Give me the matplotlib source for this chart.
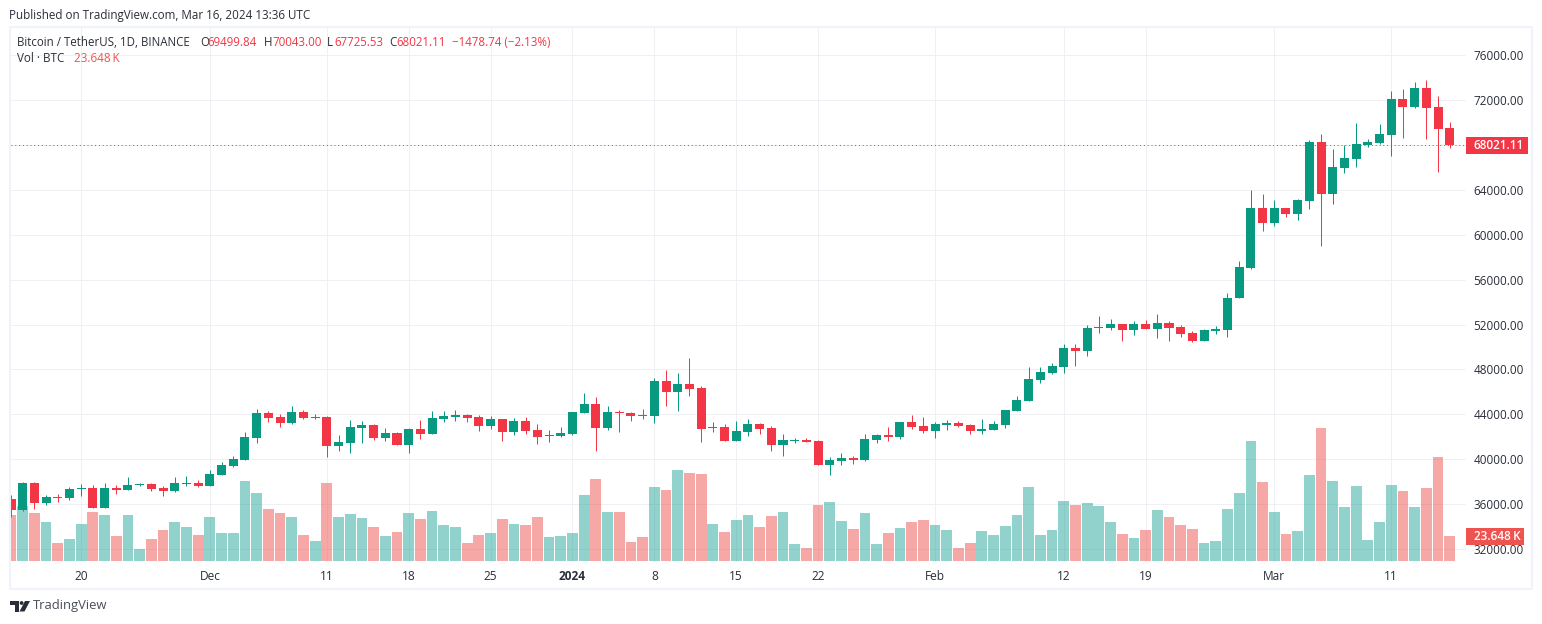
import numpy as np
import pandas as pd
import matplotlib
matplotlib.use('Agg')
import matplotlib.pyplot as plt
import matplotlib.dates as mdates
from matplotlib.patches import Rectangle, Polygon, Circle

plt.rcParams['font.family'] = ['Open Sans', 'DejaVu Sans']

# daily candles
dates = pd.date_range('2023-11-14', '2024-03-16', freq='D')
opens = [36440,35470,37870,36090,36620,36530,37330,37420,35640,37420,37240,37690,37780,37420,37160,37780,37870,37600,38580,39380,
         39910,41870,44090,43730,43200,44180,43640,43730,41160,41420,42760,43020,41870,42310,41240,42670,42220,43560,43730,43910,
         43730,42930,43560,42400,43380,42580,42040,42040,42220,44090,44890,42760,44180,44090,43910,43820,46930,45960,46670,46310,
         42760,42840,41600,42400,43110,42760,41240,41600,41690,41600,39470,39820,40090,39910,41690,42130,41960,43290,42930,42490,
         43020,43200,43020,42490,42580,43020,44270,45160,47020,47650,48180,49870,49600,51730,51730,52090,51560,52090,51650,52180,
         51820,51290,50580,51470,51560,54340,57020,62400,61070,62400,61870,63020,68270,63640,65960,66760,68000,68180,68890,72090,
         71380,73070,71380,69499.84]
highs = [36800,37960,37960,36800,36890,37510,37780,37690,37870,37690,38400,37870,37870,37600,38400,38490,38130,39020,39730,40270,
         42400,44450,44270,44000,44710,44360,44000,43820,42130,43470,43380,43110,42760,42400,42760,43470,44270,44270,44360,44000,
         43910,43820,43560,43640,43730,43110,42580,42840,44180,45870,45510,44710,44360,44180,44450,47200,47910,47650,48980,46490,
         43290,43110,43380,43560,43200,42930,42220,41870,41870,41690,40180,40530,40270,42220,42220,42840,43290,43910,43730,43290,
         43470,43380,43110,43560,43380,44360,45600,48180,48180,48530,50310,50310,52000,52800,52530,52090,52360,52450,52980,52360,
         52000,51470,51650,51910,54850,57640,64000,63640,63110,62400,63200,68440,68980,67640,68000,69960,68530,69870,72800,72980,
         73600,73780,72360,70043.00]
lows = [34840,35380,35550,35910,36180,36360,36710,35640,35640,36890,37240,37600,37160,36710,37070,37600,37510,37600,38580,39290,
        39910,41420,43290,42840,43110,43560,43560,40180,40710,40530,41420,41690,41600,41240,40530,41780,42220,43290,43380,43290,
        42490,42670,41600,42130,42220,41330,41510,41960,42130,44090,40710,42580,42400,43380,43560,43200,44710,44270,45600,41510,
        42400,41600,41600,42040,42220,40710,40270,41420,41510,39470,38580,39470,39560,39820,41420,41600,41780,42670,42310,41870,
        42580,42840,42220,42220,42580,42760,44270,45160,46760,47560,47650,48270,49160,51290,51560,50580,51110,51650,50760,50580,
        50930,50490,50580,51200,50850,54340,56930,60350,60800,61600,61330,62310,59020,62750,65510,66040,67820,68090,67020,68620,
        71290,68530,65600,67725.53]
closes = [35470,37870,36090,36620,36530,37330,37420,35640,37420,37240,37690,37780,37330,37160,37870,37870,37600,38670,39470,40000,
          41960,44090,43640,43200,44180,43640,43730,41160,41510,42840,43020,41870,42310,41240,42670,42220,43640,43820,43910,43640,
          42930,43560,42400,43380,42490,41960,42130,42310,44180,44890,42760,44180,44090,43820,43820,46930,45960,46670,46220,42670,
          42840,41600,42490,43110,42670,41240,41690,41690,41510,39470,39910,40090,39910,41780,42130,41960,43290,42840,42490,43110,
          43200,42930,42490,42670,43110,44360,45250,47110,47730,48270,49870,49600,51730,51820,52090,51560,52090,51650,52180,51730,
          51200,50580,51560,51650,54400,57110,62400,61070,62400,61870,63110,68270,63640,66040,66840,68090,68270,68980,72090,71380,
          73070,71290,69420,68021.11]
# volume in thousands of BTC
volumes = [43.5,52.0,45.4,36.9,17.0,20.8,35.0,46.4,43.5,23.6,43.5,11.4,20.8,29.3,36.9,32.2,24.6,41.6,26.5,26.5,
           75.7,64.3,49.2,45.4,41.6,24.6,18.9,73.8,41.6,44.5,40.7,32.2,23.6,27.4,45.4,39.7,47.3,34.1,32.2,17.0,
           24.6,26.5,39.7,35.0,34.1,41.6,22.7,23.6,26.5,62.4,77.6,46.4,46.4,18.0,22.7,70.0,67.2,86.1,83.2,82.3,
           35.0,27.4,38.8,43.5,32.2,42.6,46.4,16.1,12.3,53.0,55.8,37.8,30.3,45.4,16.1,26.5,31.2,36.9,38.8,34.1,
           29.3,12.3,17.0,28.4,24.6,33.1,43.5,70.0,24.6,29.3,56.8,53.0,54.9,52.0,36.9,25.5,21.8,29.3,48.2,41.6,
           34.1,30.3,17.0,18.9,49.2,64.3,113.5,74.7,46.4,25.5,28.4,81.3,125.8,75.7,51.1,70.9,19.9,36.9,71.9,66.2,
           51.1,69.1,98.4,23.648]
price_ticks = [32000,36000,40000,44000,48000,52000,56000,60000,64000,68000,72000,76000]
time_ticks = ['2023-11-20','2023-12-01','2023-12-11','2023-12-18','2023-12-25','2024-01-01','2024-01-08',
              '2024-01-15','2024-01-22','2024-02-01','2024-02-12','2024-02-19','2024-03-01','2024-03-11']
time_labels = ['20','Dec','11','18','25','2024','8','15','22','Feb','12','19','Mar','11']

W, H = 1542, 624
GREEN, RED = '#089981', '#F23645'
VOL_GREEN, VOL_RED = '#26A69A', '#EF5350'
GRID = '#F0F0F4'
FRAME = '#F0F3FA'
TEXT = '#2A2E39'

o = np.array(opens)
h = np.array(highs)
l = np.array(lows)
c = np.array(closes)
v = np.array(volumes)
x = mdates.date2num(dates)
up = c >= o

fig = plt.figure(figsize=(W/100, H/100), dpi=100)
# pane in pixels: left 11, right 1466, top 27, bottom 562
ax = fig.add_axes([11/W, 1-562/H, (1466-11)/W, (562-27)/H])
ax.set_xlim(x[0], x[0] + (1466-11)/11.697)
ax.set_ylim(30829, 78536)

# volume shares the price axis, scaled down to the bottom of the pane
vol_base = 30918
vol_scale = 94.27
ax.bar(x, v*vol_scale, bottom=vol_base, width=0.92, linewidth=0,
       color=[VOL_GREEN if u else VOL_RED for u in up], alpha=0.5, zorder=1)

wicks = ax.vlines(x, l, h, colors=[GREEN if u else RED for u in up], linewidth=0.72, zorder=2)
wicks.set_snap(True)
ax.bar(x, np.abs(c-o), bottom=np.minimum(o, c), width=0.77, linewidth=0,
       color=[GREEN if u else RED for u in up], zorder=3)

ax.axhline(closes[-1], color=RED, linewidth=0.72, linestyle=(0, (1, 2.8)), zorder=4, snap=True)

ax.set_axisbelow(True)
ax.grid(True, color=GRID, linewidth=0.72)
for s in ax.spines.values():
    s.set_visible(False)
ax.yaxis.tick_right()
ax.set_yticks(price_ticks)
ax.set_yticklabels(['%.2f' % p for p in price_ticks])
ax.set_xticks(mdates.date2num(pd.to_datetime(time_ticks)))
ax.set_xticklabels(time_labels)
ax.tick_params(axis='y', length=0, pad=5.4, labelsize=8.5, labelcolor=TEXT)
ax.tick_params(axis='x', length=0, pad=6.0, labelsize=8.6, labelcolor=TEXT)
for lab in ax.get_xticklabels():
    if lab.get_text() == '2024':
        lab.set_fontweight('bold')

# screenshot furniture, in pixel coordinates
ov = fig.add_axes([0, 0, 1, 1], zorder=10)
ov.set_xlim(0, W)
ov.set_ylim(H, 0)
ov.axis('off')
ov.add_patch(Rectangle((10, 27), 1521.5, 562, fill=False, edgecolor=FRAME, linewidth=1.5))

ov.text(9, 15, 'Published on TradingView.com, Mar 16, 2024 13:36 UTC', fontsize=8.33, color=TEXT, va='center')

header = [(17, 'Bitcoin / TetherUS, 1D, BINANCE', TEXT), (200, 'O', TEXT), (207, '69499.84', RED),
          (264, 'H', TEXT), (272, '70043.00', RED), (327, 'L', TEXT), (334, '67725.53', RED),
          (389, 'C', TEXT), (396, '68021.11', RED), (452, '\u22121478.74 (\u22122.13%)', RED)]
for px, s, col in header:
    ov.text(px, 42.5, s, fontsize=8.3, color=col, va='center')
ov.text(17, 59, 'Vol \u00b7 BTC', fontsize=8.4, color=TEXT, va='center')
ov.text(74, 59, '23.648\u2009K', fontsize=8.4, color=VOL_RED, va='center')

ov.add_patch(Rectangle((1466, 137), 62, 17, facecolor=RED, edgecolor='none'))
ov.text(1474, 145.5, '68021.11', fontsize=8.5, color='white', fontweight=600, va='center')
ov.add_patch(Rectangle((1466, 528), 58, 17, facecolor=VOL_RED, edgecolor='none'))
ov.text(1474, 536.5, '23.648\u2009K', fontsize=8.5, color='white', fontweight=600, va='center')

# logo
ov.add_patch(Polygon([(10, 601), (19, 601), (19, 611.5), (15, 611.5), (15, 605), (10, 605)], facecolor=TEXT, edgecolor='none'))
ov.add_patch(Circle((21.6, 603), 1.9, facecolor=TEXT, edgecolor='none'))
ov.add_patch(Polygon([(25, 601), (30, 601), (24.5, 611.5), (19.5, 611.5)], facecolor=TEXT, edgecolor='none'))
ov.text(33, 606, 'TradingView', fontsize=9.4, color='#4A4E59', va='center')

fig.savefig('out.png', dpi=100)
